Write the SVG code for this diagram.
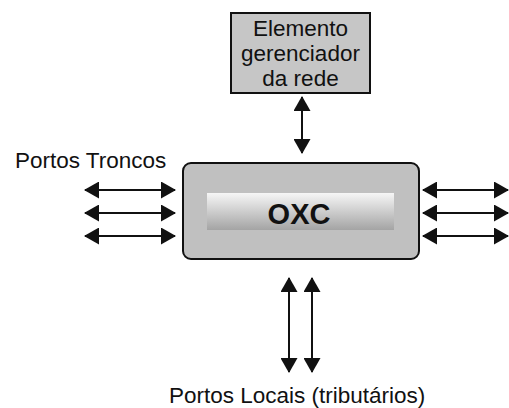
<svg xmlns="http://www.w3.org/2000/svg" width="509" height="408" viewBox="0 0 509 408">
<style>
.t{font-family:"Liberation Sans",Arial,sans-serif;font-size:22.5px;fill:#111}
.c{stroke:#111;stroke-width:2;fill:none;marker-start:url(#ah);marker-end:url(#ah)}
</style>
<defs>
<marker id="ah" viewBox="0 0 15 17" refX="14" refY="8.5" markerWidth="15" markerHeight="17" markerUnits="userSpaceOnUse" orient="auto-start-reverse">
<path d="M0,0 L15,8.5 L0,17 z" fill="#111"/>
</marker>
<linearGradient id="g" x1="0" y1="0" x2="0" y2="1">
<stop offset="0" stop-color="#f6f6f6"/>
<stop offset="1" stop-color="#a4a4a4"/>
</linearGradient>
</defs>
<rect width="509" height="408" fill="#fff"/>
<g id="gerenciador">
<rect x="231" y="13" width="139" height="80" fill="#c6c6c6" stroke="#111" stroke-width="2"/>
<text class="t" x="300.5" y="36" text-anchor="middle">Elemento</text>
<text class="t" x="300.5" y="61" text-anchor="middle">gerenciador</text>
<text class="t" x="300.5" y="86" text-anchor="middle">da rede</text>
</g>
<g id="oxc">
<rect x="183" y="163" width="236" height="96" rx="8" fill="#c0c0c0" stroke="#111" stroke-width="2"/>
<rect x="207" y="193" width="187" height="37" fill="url(#g)"/>
<text x="299" y="224" text-anchor="middle" style="font-family:'Liberation Sans',Arial,sans-serif;font-size:29px;font-weight:bold;fill:#111">OXC</text>
</g>
<g id="labels">
<text class="t" x="15" y="168">Portos Troncos</text>
<text class="t" x="169" y="403">Portos Locais (tributários)</text>
</g>
<g id="connectors">
<line class="c" x1="302" y1="97" x2="302" y2="153"/>
<line class="c" x1="85" y1="190" x2="175" y2="190"/>
<line class="c" x1="85" y1="213" x2="175" y2="213"/>
<line class="c" x1="85" y1="236" x2="175" y2="236"/>
<line class="c" x1="423" y1="190" x2="508" y2="190"/>
<line class="c" x1="423" y1="213" x2="508" y2="213"/>
<line class="c" x1="423" y1="236" x2="508" y2="236"/>
<line class="c" x1="289" y1="278" x2="289" y2="372"/>
<line class="c" x1="312" y1="278" x2="312" y2="372"/>
</g>
</svg>
